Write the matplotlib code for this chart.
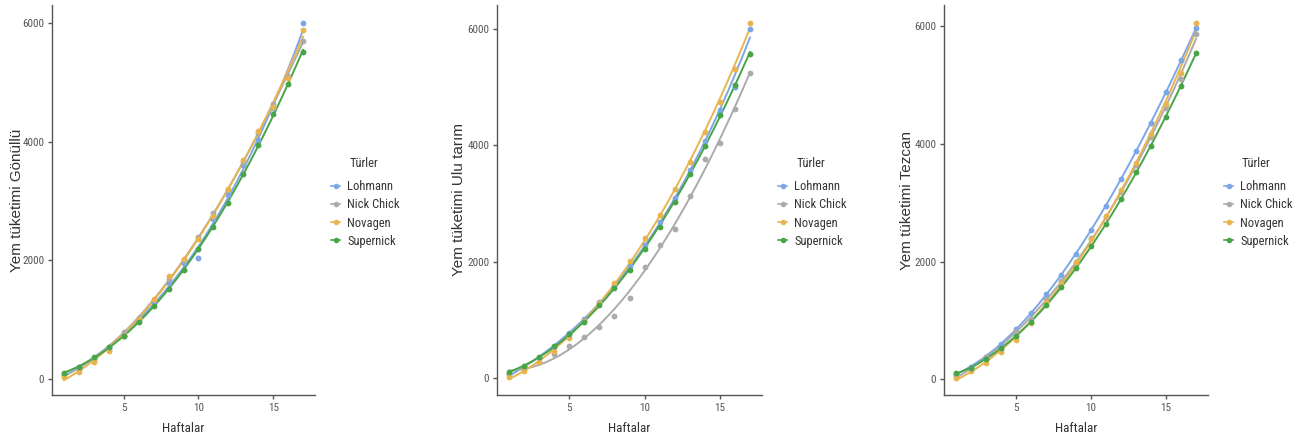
import numpy as np
import matplotlib
matplotlib.use("Agg")
import matplotlib.pyplot as plt
from matplotlib.lines import Line2D

weeks = np.arange(1, 18)
breeds = ["Lohmann", "Nick Chick", "Novagen", "Supernick"]
colors = {"Lohmann": "#7ba7e6", "Nick Chick": "#ababab",
          "Novagen": "#e8b450", "Supernick": "#47a447"}

# Panel 1: Gönüllü
gon_lohmann = [80, 190, 330, 500, 720, 990, 1290, 1620, 1950, 2030, 2700, 3100, 3600, 4030, 4560, 5090, 6000]
gon_nick = [60, 170, 330, 540, 790, 1030, 1330, 1680, 2000, 2390, 2790, 3190, 3660, 4145, 4630, 5110, 5700]
gon_novagen = [30, 110, 280, 470, 725, 1005, 1345, 1725, 2025, 2350, 2745, 3200, 3690, 4185, 4590, 5070, 5890]
gon_super = [90, 200, 370, 525, 713, 960, 1220, 1510, 1830, 2190, 2555, 2970, 3455, 3950, 4470, 4980, 5520]

# Panel 2: Ulu tarım
ulu_lohmann = [70, 190, 340, 530, 783, 1011, 1300, 1580, 1920, 2280, 2680, 3100, 3580, 4080, 4600, 5000, 6000]
ulu_nick = [69, 154, 269, 411, 554, 714, 869, 1069, 1383, 1909, 2291, 2554, 3126, 3770, 4040, 4620, 5240]
ulu_novagen = [23, 126, 269, 457, 697, 983, 1297, 1634, 2005, 2400, 2810, 3250, 3710, 4220, 4750, 5310, 6110]
ulu_super = [97, 211, 366, 543, 754, 971, 1257, 1550, 1857, 2220, 2600, 3020, 3510, 3995, 4525, 5040, 5570]

# Panel 3: Tezcan
tez_lohmann = [97, 211, 382, 598, 855, 1128, 1442, 1778, 2137, 2536, 2952, 3407, 3875, 4359, 4889, 5425, 5966]
tez_nick = [60, 160, 370, 520, 826, 1020, 1368, 1664, 2000, 2400, 2760, 3180, 3640, 4120, 4615, 5111, 5869]
tez_novagen = [28, 142, 268, 456, 672, 957, 1311, 1635, 1994, 2382, 2781, 3219, 3675, 4171, 4672, 5202, 6057]
tez_super = [103, 199, 342, 524, 741, 969, 1254, 1567, 1897, 2262, 2638, 3066, 3521, 3972, 4462, 4986, 5556]

panels = [
    ("Yem tüketimi Gönüllü", [gon_lohmann, gon_nick, gon_novagen, gon_super],
     [52, 315], (-277, 6305), 24, 331, 364),
    ("Yem tüketimi Ulu tarım", [ulu_lohmann, ulu_nick, ulu_novagen, ulu_super],
     [497, 762], (-291, 6411), 466, 778, 811),
    ("Yem tüketimi Tezcan", [tez_lohmann, tez_nick, tez_novagen, tez_super],
     [944, 1208], (-268, 6364), 914, 1224, 1256),
]

W, H = 1306, 443
fig = plt.figure(figsize=(W / 100, H / 100), dpi=100)
cond = ["Roboto Condensed", "DejaVu Sans"]
plt.rcParams["font.family"] = cond

top_px, bot_px = 5, 395
for ylabel, series, (lx, rx), ylim, ylab_x, leg_x, title_x in panels:
    ax = fig.add_axes([lx / W, 1 - bot_px / H, (rx - lx) / W, (bot_px - top_px) / H])
    xs = np.linspace(1, 17, 200)
    for name, vals in zip(breeds, series):
        vals = np.array(vals, dtype=float)
        coef = np.polyfit(weeks, vals, 3)
        ax.plot(xs, np.polyval(coef, xs), color=colors[name], lw=1.4, zorder=2)
        ax.plot(weeks, vals, "o", color=colors[name], ms=4.2, mew=0, zorder=3)
    ax.set_xlim(0.2, 17.8)
    ax.set_ylim(*ylim)
    ax.set_xticks([5, 10, 15])
    ax.set_yticks([0, 2000, 4000, 6000])
    for s in ["top", "right"]:
        ax.spines[s].set_visible(False)
    for s in ["left", "bottom"]:
        ax.spines[s].set_color("#555555")
        ax.spines[s].set_linewidth(1.0)
    ax.tick_params(axis="both", colors="#555555", labelcolor="#555555",
                   labelsize=8, length=3, width=1, pad=2.5)
    ax.set_xlabel("Haftalar", fontsize=9.5, color="#333333", labelpad=7)
    ax.set_ylabel(ylabel, fontsize=11, color="#333333",
                  family=["Liberation Sans", "DejaVu Sans"])
    ax.yaxis.set_label_coords((ylab_x - lx) / (rx - lx), 0.5)
    handles = [Line2D([0], [0], color=colors[n], marker="o", ms=4, lw=1.2, mew=0)
               for n in breeds]
    fig.legend(handles, breeds, loc="upper left",
               bbox_to_anchor=(leg_x / W, 1 - 180 / H), frameon=False,
               fontsize=9, handlelength=0.75, borderpad=0, borderaxespad=0,
               handletextpad=0.55, labelspacing=0.42, labelcolor="#333333")
    fig.text(title_x / W, 1 - 163 / H, "Türler", fontsize=9, color="#333333",
             ha="center", va="center")

fig.savefig("out.png", dpi=100)
